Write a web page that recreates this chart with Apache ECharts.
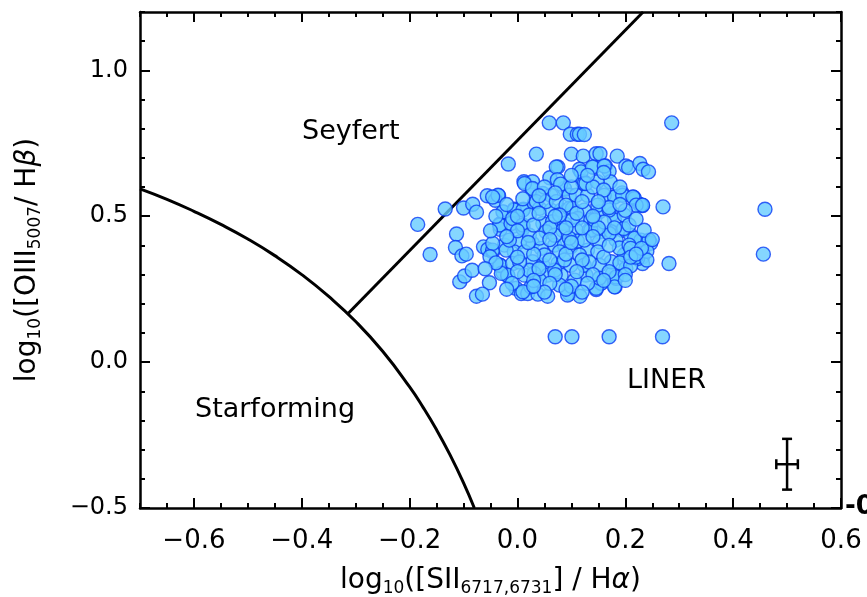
<!DOCTYPE html>
<html>
<head>
<meta charset="utf-8">
<script src="https://cdn.jsdelivr.net/npm/echarts@6/dist/echarts.min.js"></script>
<style>
  html, body { margin: 0; padding: 0; background: #fff; }
</style>
</head>
<body>
<div id="bpt" style="width: 867px; height: 597px"></div>
<script>
// tick labels
var xLabels = [-0.6, -0.4, -0.2, 0.0, 0.2, 0.4, 0.6];
var yLabels = [-0.5, 0.0, 0.5, 1.0];

// starforming / AGN boundary
var kewleyCurve = [
  [-0.7, 0.594], [-0.65, 0.558], [-0.6, 0.517], [-0.55, 0.472], [-0.5, 0.422],
  [-0.45, 0.365], [-0.4, 0.3], [-0.35, 0.225], [-0.3, 0.139], [-0.25, 0.037],
  [-0.2, -0.085], [-0.175, -0.155], [-0.15, -0.232], [-0.125, -0.318],
  [-0.1, -0.414], [-0.08, -0.5]
];
// Seyfert / LINER boundary
var seyfertLine = [[-0.315, 0.165], [0.233, 1.2]];

// typical error: x, y, xerr, yerr
var errBar = [[0.5, -0.35, 0.02, 0.087]];

// galaxies [log SII/Ha, log OIII/Hb]
var galaxies = [
  [0.059, 0.82], [0.085, 0.82], [0.098, 0.781], [0.111, 0.781], [0.115, 0.781],
  [0.286, 0.82], [0.035, 0.713], [-0.017, 0.679], [0.075, 0.669], [0.06, 0.632],
  [0.1, 0.713], [0.122, 0.706], [0.146, 0.714], [0.153, 0.714], [0.185, 0.706],
  [0.201, 0.672], [0.206, 0.667], [0.227, 0.681], [0.233, 0.661], [0.243, 0.652],
  [0.115, 0.661], [0.141, 0.668], [0.163, 0.672], [0.17, 0.654], [0.123, 0.618],
  [0.172, 0.618], [0.012, 0.618], [0.028, 0.618], [0.027, 0.592], [0.088, 0.592],
  [-0.056, 0.57], [-0.035, 0.57], [-0.041, 0.555], [-0.134, 0.525], [-0.1, 0.528],
  [-0.083, 0.541], [-0.076, 0.514], [-0.185, 0.472], [-0.026, 0.514], [-0.006, 0.524],
  [0.011, 0.524], [0.27, 0.532], [0.215, 0.565], [0.226, 0.541], [0.232, 0.537],
  [0.194, 0.58], [0.18, 0.567], [-0.162, 0.369], [-0.113, 0.439], [-0.115, 0.393],
  [-0.103, 0.364], [-0.095, 0.37], [-0.063, 0.395], [-0.055, 0.386], [-0.046, 0.378],
  [-0.033, 0.473], [-0.032, 0.455], [-0.012, 0.487], [-0.007, 0.466], [0.01, 0.464],
  [-0.107, 0.275], [-0.098, 0.295], [-0.084, 0.315], [-0.052, 0.272], [-0.076, 0.226],
  [-0.065, 0.233], [-0.032, 0.332], [-0.027, 0.307], [-0.018, 0.296], [-0.003, 0.253],
  [0.007, 0.235], [0.019, 0.235], [0.038, 0.233], [0.056, 0.226], [0.096, 0.235],
  [0.116, 0.226], [0.146, 0.249], [0.156, 0.272], [0.181, 0.258], [0.281, 0.338],
  [0.07, 0.087], [0.101, 0.087], [0.17, 0.087], [0.269, 0.087], [0.232, 0.401],
  [0.232, 0.378], [0.232, 0.361], [0.232, 0.338], [0.22, 0.418], [0.217, 0.361],
  [0.201, 0.373], [0.198, 0.35], [0.207, 0.355], [0.176, 0.304], [0.183, 0.287],
  [0.459, 0.524], [0.456, 0.37], [0.247, 0.407],
  [0.013, 0.612], [0.028, 0.595], [0.047, 0.578], [0.062, 0.572], [0.087, 0.595],
  [0.096, 0.572], [-0.036, 0.572], [-0.046, 0.566], [-0.027, 0.515], [-0.006, 0.521],
  [0.01, 0.521], [0.031, 0.544], [0.041, 0.527], [0.062, 0.521], [0.081, 0.521],
  [0.096, 0.527], [-0.033, 0.47], [-0.012, 0.475], [0.01, 0.458], [0.047, 0.475],
  [0.065, 0.481], [0.087, 0.475], [0.053, 0.447], [0.084, 0.452], [-0.009, 0.492],
  [0.028, 0.407], [0.004, 0.412],
  [0.121, 0.618], [0.109, 0.572], [0.13, 0.572], [0.161, 0.572], [0.18, 0.566],
  [0.195, 0.572], [0.217, 0.561], [0.229, 0.538], [0.102, 0.527], [0.124, 0.521],
  [0.152, 0.515], [0.149, 0.538], [0.177, 0.509], [0.112, 0.492], [0.136, 0.487],
  [0.18, 0.487], [0.109, 0.452], [0.133, 0.452], [0.152, 0.447], [0.174, 0.447],
  [0.195, 0.452], [0.21, 0.435], [0.152, 0.412], [0.183, 0.418], [0.229, 0.418],
  [0.244, 0.418],
  [-0.046, 0.384], [-0.024, 0.401], [-0.006, 0.378], [0.013, 0.378], [0.044, 0.39],
  [0.069, 0.401], [0.087, 0.401], [0.099, 0.395], [-0.033, 0.332], [-0.009, 0.338],
  [0.028, 0.344], [0.047, 0.332], [0.075, 0.338], [0.099, 0.332], [-0.018, 0.298],
  [0.013, 0.298], [0.031, 0.304], [0.056, 0.298], [0.081, 0.298], [0.025, 0.258],
  [0.093, 0.23],
  [0.136, 0.452], [0.17, 0.441], [0.217, 0.424], [0.13, 0.384], [0.149, 0.378],
  [0.174, 0.344], [0.198, 0.367], [0.223, 0.355], [0.201, 0.321], [0.127, 0.298],
  [0.152, 0.332], [0.155, 0.27], [0.183, 0.292], [0.18, 0.258], [0.146, 0.253],
  [0.115, 0.367], [0.124, 0.332], [0.106, 0.281], [0.078, 0.264], [0.05, 0.367],
  [0.022, 0.315], [0.069, 0.315], [0.111, 0.415],
  [-0.046, 0.407], [-0.051, 0.361], [-0.03, 0.304], [-0.021, 0.384], [0.01, 0.241],
  [0.072, 0.669], [0.118, 0.652], [0.124, 0.612], [0.035, 0.55], [0.053, 0.55],
  [0.072, 0.55], [0.09, 0.538], [0.102, 0.487], [0.01, 0.47],
  [0.124, 0.78], [0.139, 0.669], [0.161, 0.672], [0.127, 0.612], [0.214, 0.566],
  [0.22, 0.538], [0.232, 0.538], [0.17, 0.521], [0.197, 0.458],
  [0.022, 0.435], [0.041, 0.425], [0.069, 0.435], [0.096, 0.425], [0.124, 0.418],
  [0.143, 0.487], [0.161, 0.48], [0.198, 0.504], [0.207, 0.47], [0.189, 0.391],
  [0.078, 0.378], [0.133, 0.343], [0.087, 0.35], [0.041, 0.281], [0.004, 0.343],
  [-0.015, 0.418], [0.022, 0.504], [0.078, 0.504], [0.152, 0.288], [0.207, 0.401],
  [0.235, 0.452], [0.148, 0.618], [0.074, 0.625],
  [0.0, 0.45], [0.03, 0.47], [0.06, 0.46], [0.09, 0.46], [0.12, 0.46], [0.15, 0.46],
  [0.18, 0.46], [0.0, 0.36], [0.03, 0.37], [0.06, 0.35], [0.09, 0.37], [0.12, 0.35],
  [0.16, 0.36], [0.19, 0.34], [0.21, 0.33], [0.0, 0.31], [0.04, 0.32], [0.07, 0.3],
  [0.11, 0.31], [0.14, 0.3], [0.17, 0.31], [0.2, 0.3], [-0.01, 0.27], [0.03, 0.28],
  [0.06, 0.27], [0.1, 0.26], [0.13, 0.27], [0.16, 0.28], [0.2, 0.28], [-0.02, 0.43],
  [0.02, 0.41], [0.06, 0.42], [0.1, 0.41], [0.14, 0.43], [0.17, 0.4], [0.21, 0.39],
  [0.24, 0.38], [0.0, 0.5], [0.04, 0.51], [0.07, 0.5], [0.11, 0.51], [0.14, 0.5],
  [0.17, 0.53], [0.2, 0.52], [0.22, 0.49], [0.05, 0.6], [0.08, 0.61], [0.1, 0.6],
  [0.14, 0.6], [0.16, 0.59], [0.19, 0.6], [0.01, 0.56], [0.04, 0.57], [0.07, 0.58],
  [0.12, 0.55], [0.15, 0.55], [0.19, 0.54], [0.1, 0.64], [0.13, 0.64], [0.16, 0.65],
  [0.22, 0.36], [0.24, 0.35], [0.23, 0.39], [0.25, 0.42], [0.21, 0.36], [0.22, 0.37],
  [-0.04, 0.5], [-0.02, 0.54], [-0.05, 0.45], [-0.04, 0.34], [-0.06, 0.32], [-0.02, 0.25],
  [0.05, 0.24], [0.09, 0.25], [0.12, 0.24], [0.03, 0.26]
];

var FONT = "DejaVu Sans";

function tickText(v) {
  return (v < 0 ? "\u2212" : "") + Math.abs(v).toFixed(1);
}

function makeAxis(pos, isX, major) {
  var ax = {
    type: "value",
    position: pos,
    min: isX ? -0.7 : -0.5,
    max: isX ? 0.6 : 1.2,
    interval: isX ? 0.05 : 0.1,
    splitLine: { show: false },
    axisLine: { show: !major, onZero: false, lineStyle: { color: "#000", width: 2.5 } },
    axisTick: {
      show: true,
      inside: true,
      length: major ? 10 : 5,
      lineStyle: { color: "#000", width: 2 },
    },
    axisLabel: { show: false },
  };
  if (major) {
    ax.axisTick.customValues = isX ? xLabels : yLabels;
  }
  return ax;
}

function nameRich() {
  return {
    n: { fontFamily: FONT, fontSize: 28, color: "#000" },
    s: { fontFamily: FONT, fontSize: 17, color: "#000", padding: [16, 0, 0, 0] },
    g: { fontFamily: FONT, fontSize: 28, fontStyle: "italic", color: "#000" },
  };
}

var chartDom = document.getElementById("bpt");
var myChart = echarts.init(chartDom);
var option;

var xMain = makeAxis("bottom", true, false);
xMain.axisLabel = {
  show: true,
  customValues: xLabels,
  formatter: tickText,
  color: "#000",
  fontFamily: FONT,
  fontSize: 26,
  margin: 20,
};
xMain.name = "{n|log}{s|10}{n|([SII}{s|6717,6731}{n|] / H}{g|\u03b1}{n|)}";
xMain.nameLocation = "middle";
xMain.nameGap = 56;
xMain.nameTextStyle = { color: "#000", rich: nameRich() };

var yMain = makeAxis("left", false, false);
yMain.axisLabel = {
  show: true,
  customValues: yLabels,
  formatter: tickText,
  color: "#000",
  fontFamily: FONT,
  fontSize: 24,
  margin: 12,
};
yMain.name = "{n|log}{s|10}{n|([OIII}{s|5007}{n|/ H}{g|\u03b2}{n|)}";
yMain.nameLocation = "middle";
yMain.nameGap = 96;
yMain.nameTextStyle = { color: "#000", rich: nameRich() };

option = {
  animation: false,
  backgroundColor: "#fff",
  grid: { left: 140, right: 26, top: 12, bottom: 89, containLabel: false, outerBoundsMode: "none" },
  xAxis: [
    xMain,
    makeAxis("bottom", true, true),
    makeAxis("top", true, false),
    makeAxis("top", true, true),
  ],
  yAxis: [
    yMain,
    makeAxis("left", false, true),
    makeAxis("right", false, false),
    makeAxis("right", false, true),
  ],
  graphic: [
    { type: "text", left: 302, top: 118, style: { text: "Seyfert", fontFamily: FONT, fontSize: 27, fill: "#000" } },
    { type: "text", left: 195, top: 396, style: { text: "Starforming", fontFamily: FONT, fontSize: 27, fill: "#000" } },
    { type: "text", left: 627, top: 367, style: { text: "LINER", fontFamily: FONT, fontSize: 27, fill: "#000" } },
    { type: "text", left: 845, top: 494, style: { text: "-0.5", fontFamily: FONT, fontSize: 26, fontWeight: "bold", fill: "#000" } },
  ],
  series: [
    {
      name: "galaxies",
      type: "scatter",
      symbol: "circle",
      symbolSize: 14,
      itemStyle: { color: "#66ccff", borderColor: "#0a3cf5", borderWidth: 1.4 },
      data: galaxies,
      z: 3,
    },
    {
      name: "kewley",
      type: "line",
      smooth: true,
      symbol: "none",
      lineStyle: { color: "#000", width: 3 },
      data: kewleyCurve,
      z: 2,
    },
    {
      name: "seyfert",
      type: "line",
      symbol: "none",
      lineStyle: { color: "#000", width: 3 },
      data: seyfertLine,
      z: 2,
    },
    {
      name: "error",
      type: "custom",
      data: errBar,
      renderItem: function (params, api) {
        var x = api.value(0), y = api.value(1), dx = api.value(2), dy = api.value(3);
        var c = api.coord([x, y]);
        var l = api.coord([x - dx, y]);
        var r = api.coord([x + dx, y]);
        var t = api.coord([x, y + dy]);
        var b = api.coord([x, y - dy]);
        var cap = 5;
        var st = { stroke: "#000", lineWidth: 2.5 };
        return {
          type: "group",
          children: [
            { type: "line", shape: { x1: l[0], y1: c[1], x2: r[0], y2: c[1] }, style: st },
            { type: "line", shape: { x1: c[0], y1: t[1], x2: c[0], y2: b[1] }, style: st },
            { type: "line", shape: { x1: l[0], y1: c[1] - cap, x2: l[0], y2: c[1] + cap }, style: st },
            { type: "line", shape: { x1: r[0], y1: c[1] - cap, x2: r[0], y2: c[1] + cap }, style: st },
            { type: "line", shape: { x1: c[0] - cap, y1: t[1], x2: c[0] + cap, y2: t[1] }, style: st },
            { type: "line", shape: { x1: c[0] - cap, y1: b[1], x2: c[0] + cap, y2: b[1] }, style: st },
          ],
        };
      },
      z: 4,
    },
  ],
};

option && myChart.setOption(option);
</script>
</body>
</html>
